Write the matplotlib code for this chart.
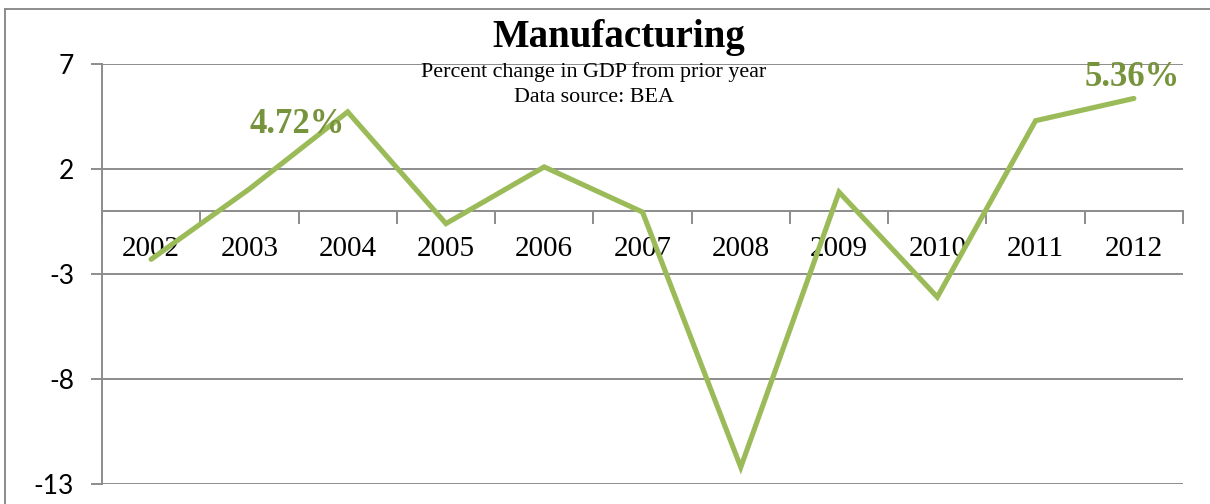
import matplotlib
matplotlib.use("Agg")
import matplotlib.pyplot as plt
from matplotlib.lines import Line2D

# Manufacturing GDP, percent change from prior year
years = ["2002", "2003", "2004", "2005", "2006", "2007",
         "2008", "2009", "2010", "2011", "2012"]
pct_change = [-2.3, 1.05, 4.72, -0.6, 2.1, -0.05,
              -12.2, 0.9, -4.1, 4.3, 5.36]
y_ticks = [-13, -8, -3, 2, 7]

LINE_GREEN = "#9BBB59"
LABEL_GREEN = "#77933C"
GRID_GREY = "#8C8C8C"
SERIF = "Liberation Serif"

fig = plt.figure(figsize=(12.1, 5.04), dpi=100)
ax = fig.add_axes([102 / 1210, 1 - 484 / 504, (1183 - 102) / 1210, (484 - 64) / 504])

x = list(range(len(years)))
ax.plot(x, pct_change, color=LINE_GREEN, lw=3.7, solid_capstyle="round",
        solid_joinstyle="miter", zorder=3)

ax.set_xlim(-0.5, len(years) - 0.5)
ax.set_ylim(y_ticks[0], y_ticks[-1])

# horizontal gridlines and y tick labels
ax.set_yticks(y_ticks)
ax.set_yticklabels([str(t) for t in y_ticks], fontfamily="Lato", fontsize=19)
ax.yaxis.grid(True, color=GRID_GREY, lw=1.4)
ax.tick_params(axis="y", length=8, width=1.4, color=GRID_GREY, pad=12)

# category axis through zero, tick marks on category boundaries
ax.spines["bottom"].set_position(("data", 0))
ax.spines["bottom"].set_color(GRID_GREY)
ax.spines["bottom"].set_linewidth(1.4)
ax.spines["left"].set_color(GRID_GREY)
ax.spines["left"].set_linewidth(1.4)
ax.spines["top"].set_visible(False)
ax.spines["right"].set_visible(False)
ax.set_xticks(x)
ax.set_xticklabels(years, fontfamily=SERIF, fontsize=21)
ax.tick_params(axis="x", which="major", length=0, pad=18)
ax.set_xticks([i - 0.5 for i in range(len(years) + 1)], minor=True)
ax.tick_params(axis="x", which="minor", length=9, width=1.4,
               color=GRID_GREY, direction="out")
ax.set_axisbelow(True)

# value labels on the first peak and the last point
ax.annotate(f"{pct_change[2]:.2f}%", (x[2], pct_change[2]), xytext=(-3, -13),
            textcoords="offset pixels", ha="right", va="center",
            fontfamily=SERIF, fontweight="bold", fontsize=25,
            color=LABEL_GREEN, zorder=4)
ax.annotate(f"{pct_change[10]:.2f}%", (x[10], pct_change[10]), xytext=(-2, 21),
            textcoords="offset pixels", ha="center", va="center",
            fontfamily=SERIF, fontweight="bold", fontsize=25,
            color=LABEL_GREEN, zorder=4)

# title block
fig.text(619 / 1210, 1 - 37 / 504, "Manufacturing", ha="center", va="center",
         fontfamily=SERIF, fontweight="bold", fontsize=28)
fig.text(594 / 1210, 1 - 72 / 504, "Percent change in GDP from prior year",
         ha="center", va="center", fontfamily=SERIF, fontsize=15.8)
fig.text(594 / 1210, 1 - 97 / 504, "Data source: BEA",
         ha="center", va="center", fontfamily=SERIF, fontsize=15.8)

# chart frame edges
fig.add_artist(Line2D([5 / 1210, 5 / 1210], [0, 1 - 9 / 504],
                      transform=fig.transFigure, color=GRID_GREY, lw=1.4))
fig.add_artist(Line2D([5 / 1210, 1], [1 - 9 / 504, 1 - 9 / 504],
                      transform=fig.transFigure, color=GRID_GREY, lw=1.4))

fig.savefig("out.png", dpi=100)
